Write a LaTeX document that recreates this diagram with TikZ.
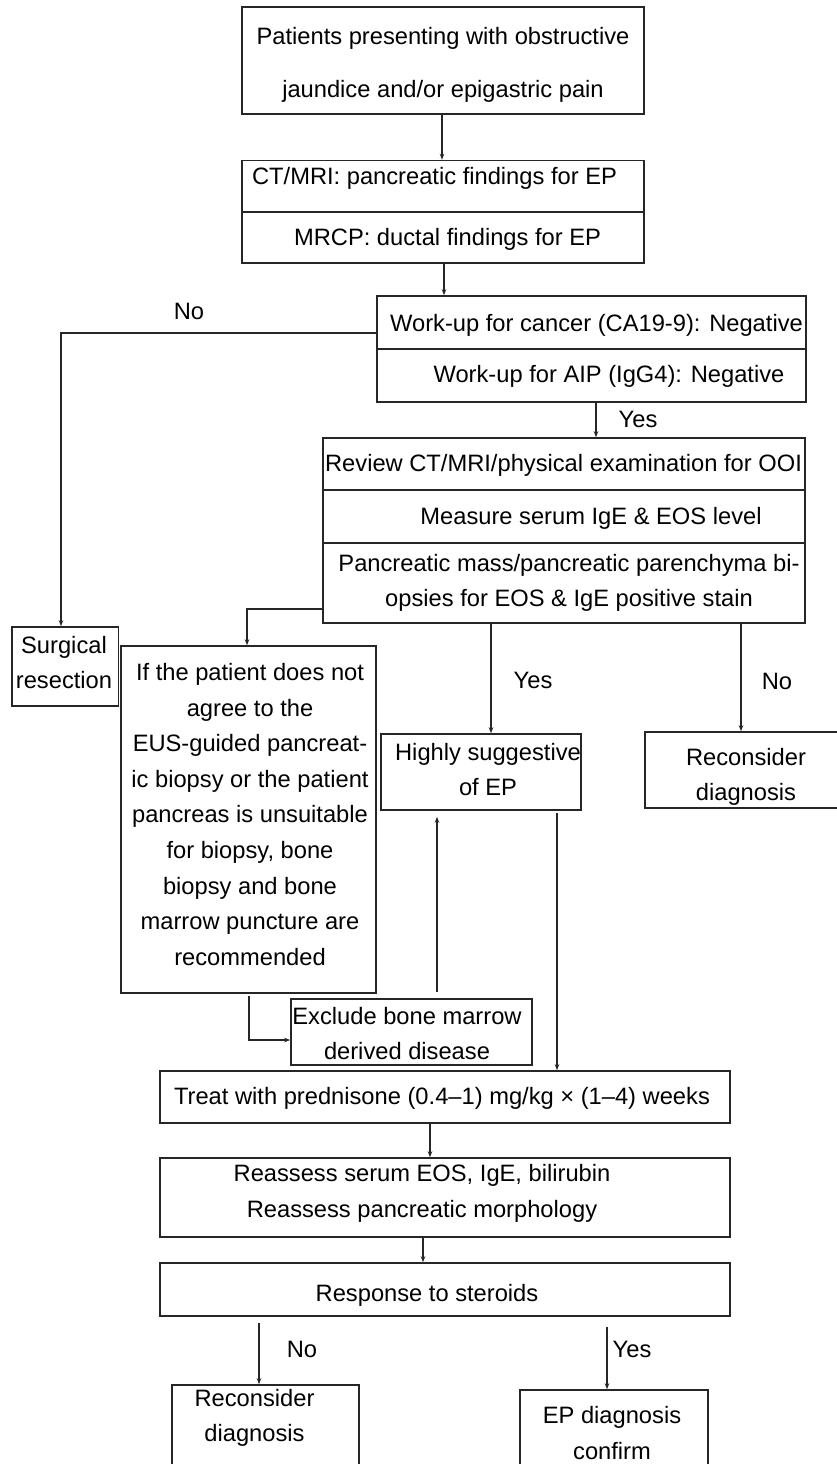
\documentclass[tikz,border=0pt]{standalone}
\usepackage{fontspec}
\setmainfont{Liberation Sans}
\usetikzlibrary{arrows.meta}
\begin{document}
\begin{tikzpicture}[x=1pt,y=-1pt,
  bx/.style={draw=black!85,line width=1.6pt,rectangle,inner sep=0pt},
  tx/.style={inner sep=0pt,align=center,font=\fontsize{23.7}{35.6}\selectfont,text=black},
  arr/.style={draw=black!85,line width=1.1pt,-{Stealth[length=6pt,width=4.5pt]}},
  ln/.style={draw=black!85,line width=1.1pt}]
\clip (0,0) rectangle (837,1464);
\fill[white] (0,0) rectangle (837,1464);
% boxes
\node[bx,minimum width=402pt,minimum height=107pt] (b1) at (443,60.5) {};
\node[bx,minimum width=402pt,minimum height=51.5pt] (ct) at (443,186.25) {};
\node[bx,minimum width=402pt,minimum height=51pt] (mrcp) at (443,237.5) {};
\node[bx,minimum width=429pt,minimum height=53pt] (wu1) at (591.5,322.5) {};
\node[bx,minimum width=429pt,minimum height=53pt] (wu2) at (591.5,375.5) {};
\node[bx,minimum width=482pt,minimum height=52pt] (rv1) at (564,464) {};
\node[bx,minimum width=482pt,minimum height=53pt] (rv2) at (564,516.5) {};
\node[bx,minimum width=482pt,minimum height=80pt] (rv3) at (564,583) {};
\node[bx,minimum width=106.5pt,minimum height=79pt] (surg) at (65.25,666.5) {};
\node[bx,minimum width=255pt,minimum height=347pt] (ifb) at (248.5,819.5) {};
\node[bx,minimum width=200pt,minimum height=76pt] (hi) at (481,772) {};
\node[bx,minimum width=205pt,minimum height=76pt] (rc1) at (747.5,770) {};
\node[bx,minimum width=241pt,minimum height=66pt] (ex) at (411.5,1032) {};
\node[bx,minimum width=570pt,minimum height=52pt] (tr) at (445,1097) {};
\node[bx,minimum width=570pt,minimum height=79pt] (ra) at (445,1197.5) {};
\node[bx,minimum width=570pt,minimum height=53pt] (rs) at (445,1289.5) {};
\node[bx,minimum width=187pt,minimum height=95pt] (rc2) at (265.5,1432.5) {};
\node[bx,minimum width=188pt,minimum height=90pt] (epc) at (614,1435) {};
% texts
\node[tx] (t1) at (443,64.5) {Patients presenting with obstructive\\[17.4pt]jaundice and/or epigastric pain};
\node[tx] (tct) at (434.5,178) {CT/MRI: pancreatic findings for EP};
\node[tx] (tmr) at (447.5,239) {MRCP: ductal findings for EP};
\node[tx] (tw1) at (596.5,325) {Work-up for cancer (CA19-9): Negative};
\node[tx] (tw2) at (609,376) {Work-up for AIP (IgG4): Negative};
\node[tx] (tr1) at (563.5,465) {Review CT/MRI/physical examination for OOI};
\node[tx] (tr2) at (591,518) {Measure serum IgE \& EOS level};
\node[tx] (tr3) at (569,583) {Pancreatic mass/pancreatic parenchyma bi-\\opsies for EOS \& IgE positive stain};
\node[tx] (tsu) at (64,662.5) {Surgical\\resection};
\node[tx] (tif) at (250,814.5) {If the patient does not\\agree to the\\EUS-guided pancreat-\\ic biopsy or the patient\\pancreas is unsuitable\\for biopsy, bone\\biopsy and bone\\marrow puncture are\\recommended};
\node[tx] (thi) at (488,769.5) {Highly suggestive\\of EP};
\node[tx] (trc1) at (746,777) {Reconsider\\diagnosis};
\node[tx] (tex) at (407,1033.5) {Exclude bone marrow\\derived disease};
\node[tx] (ttr) at (442,1098) {Treat with prednisone (0.4–1) mg/kg × (1–4) weeks};
\node[tx] (tra) at (422,1193.5) {Reassess serum EOS, IgE, bilirubin\\Reassess pancreatic morphology};
\node[tx] (trs) at (427,1295) {Response to steroids};
\node[tx] (trc2) at (254.5,1418) {Reconsider\\diagnosis};
\node[tx] (tep) at (612,1433) {EP diagnosis\\confirm};
% labels
\node[tx] (lno1) at (189,311) {No};
\node[tx] (lyes1) at (638,419) {Yes};
\node[tx] (lyes2) at (533,680) {Yes};
\node[tx] (lno2) at (777,681) {No};
\node[tx] (lno3) at (302,1349) {No};
\node[tx] (lyes3) at (632,1349) {Yes};
% connectors
\draw[arr] ([xshift=-1pt]b1.south) -- ([xshift=-1pt]ct.north);
\coordinate (m1) at ([xshift=1pt]mrcp.south);
\draw[arr] (m1) -- (m1 |- wu1.north);
\coordinate (s1) at ([xshift=-4.25pt]surg.north);
\draw[arr] ([yshift=-10.5pt]wu1.west) -| (s1);
\coordinate (w2) at ([xshift=4.5pt]wu2.south);
\draw[arr] (w2) -- (w2 |- rv1.north);
\draw[arr] ([yshift=-26pt]rv3.west) -| ([xshift=-1.5pt]ifb.north);
\draw[arr] ([xshift=-73pt]rv3.south) -- ([xshift=10pt]hi.north);
\draw[arr] ([xshift=177pt]rv3.south) -- ([xshift=-6.5pt]rc1.north);
\draw[arr] ([xshift=0.5pt,yshift=-2pt]ifb.south) |- ([yshift=-8pt]ex.west);
\draw[arr,shorten <=6pt,shorten >=6pt] ([xshift=25.5pt]ex.north) -- ([xshift=-44pt]hi.south);
\draw[arr,shorten <=2pt] ([xshift=76pt]hi.south) -- ([xshift=112pt]tr.north);
\draw[arr] ([xshift=-15pt]tr.south) -- ([xshift=-15pt]ra.north);
\draw[arr] ([xshift=-22pt]ra.south) -- ([xshift=-22pt]rs.north);
\draw[arr,shorten <=6pt] ([xshift=-186pt]rs.south) -- ([xshift=-6.5pt]rc2.north);
\draw[arr,shorten <=10pt] ([xshift=162pt]rs.south) -- ([xshift=-7pt]epc.north);
\end{tikzpicture}
\end{document}
